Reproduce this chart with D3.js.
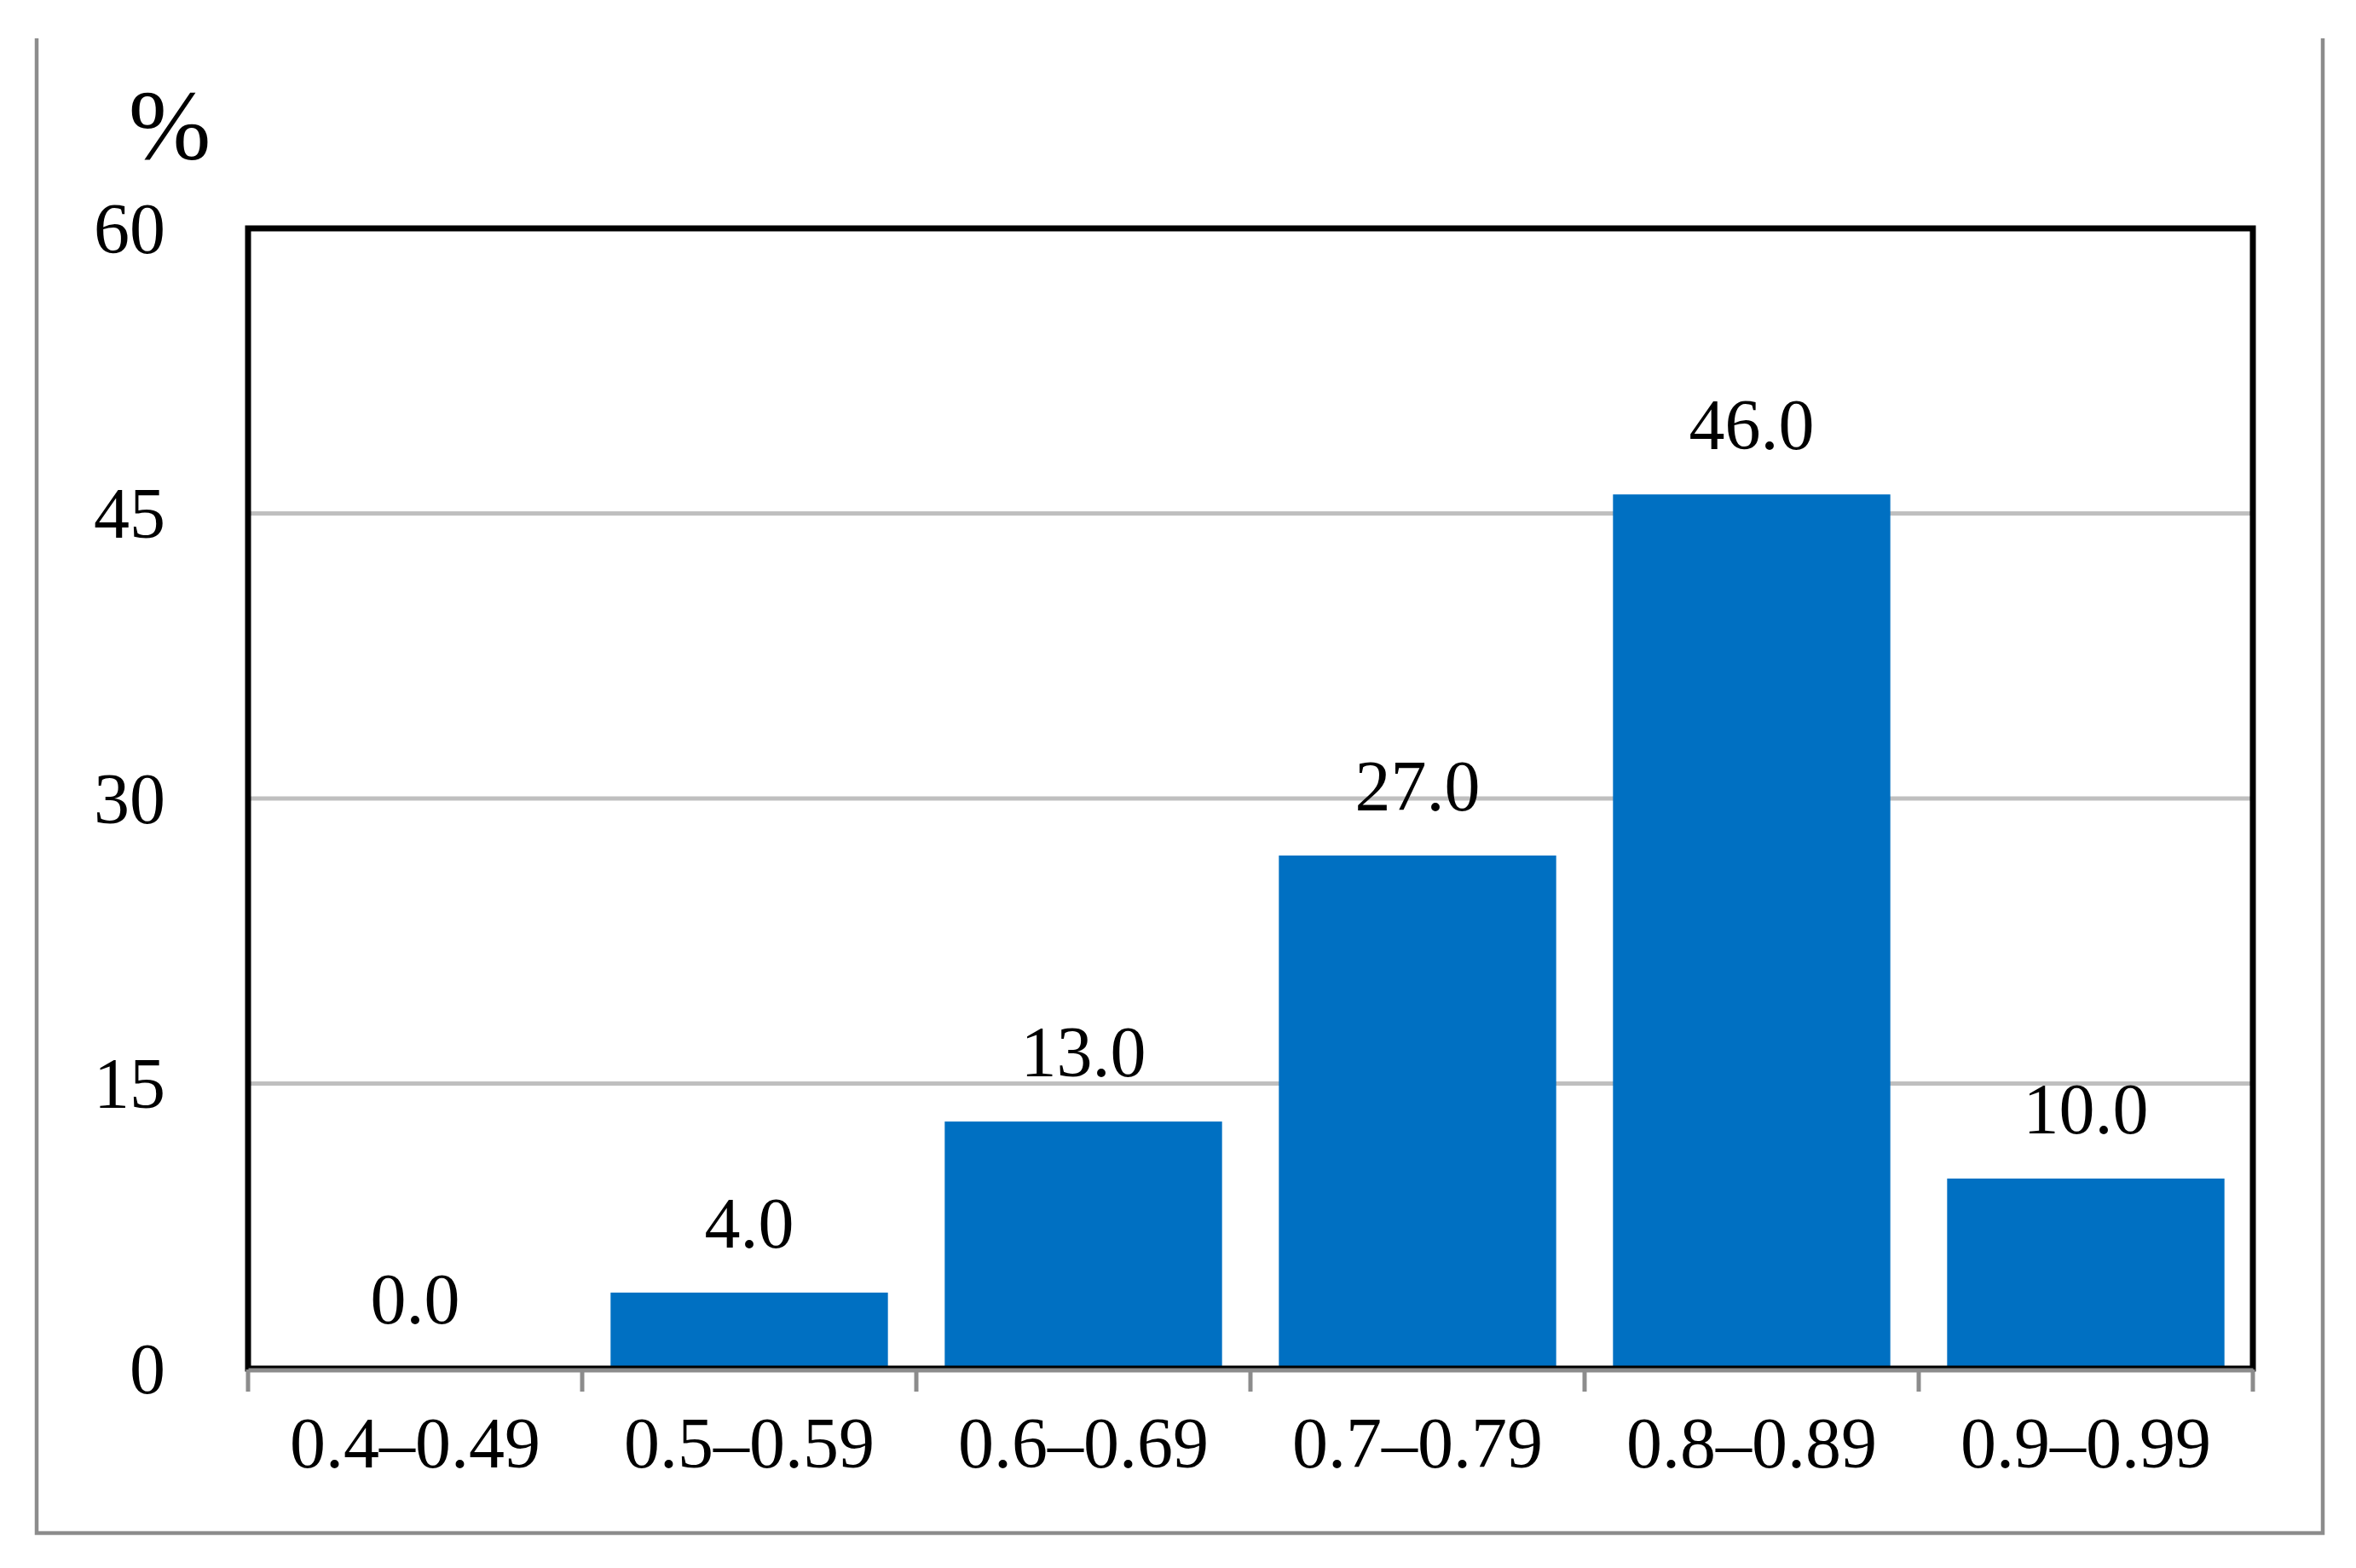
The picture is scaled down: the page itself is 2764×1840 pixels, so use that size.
<!DOCTYPE html>
<html>
<head>
<meta charset="utf-8">
<script src="https://cdn.jsdelivr.net/npm/d3@7"></script>
<style>
html,body{margin:0;padding:0;background:#fff;}
svg{display:block;}
text{font-family:"Liberation Serif","Times New Roman",serif;fill:#000;}
</style>
</head>
<body>
<svg id="chart" width="2764" height="1840"></svg>
<script>
const categories = ["0.4–0.49","0.5–0.59","0.6–0.69","0.7–0.79","0.8–0.89","0.9–0.99"];
const values = [0.0, 4.0, 13.0, 27.0, 46.0, 10.0];
const yTicks = [0, 15, 30, 45, 60];
const yUnit = "%";

const svg = d3.select("#chart");
const L = 291, R = 2643, T = 268, B = 1606;

const x = d3.scaleBand().domain(categories).range([L, R]).paddingInner(0.17).paddingOuter(0.085);
const xb = d3.scaleBand().domain(categories).range([L, R]);
const y = d3.scaleLinear().domain([0, 60]).range([B, T]);

// outer frame (open top)
svg.append("path")
  .attr("d", `M43,45 V1799 H2725 V45`)
  .attr("fill", "none").attr("stroke", "#8c8c8c").attr("stroke-width", 4.5);

// gridlines
svg.append("g").selectAll("line").data(yTicks.filter(d => d > 0 && d < 60)).join("line")
  .attr("x1", L).attr("x2", R)
  .attr("y1", d => y(d)).attr("y2", d => y(d))
  .attr("stroke", "#bfbfbf").attr("stroke-width", 5);

// bars
svg.append("g").selectAll("rect").data(values).join("rect")
  .attr("x", (d, i) => x(categories[i]))
  .attr("width", x.bandwidth())
  .attr("y", d => y(d))
  .attr("height", d => y(0) - y(d))
  .attr("fill", "#0070c2");

// plot frame
svg.append("rect")
  .attr("x", L).attr("y", T).attr("width", R - L).attr("height", B - T)
  .attr("fill", "none").attr("stroke", "#000").attr("stroke-width", 7);

// x axis line + ticks
const xAxis = d3.axisBottom(xb).tickSize(0).tickFormat("");
const gx = svg.append("g").attr("transform", `translate(0,${B + 1.5})`).call(xAxis);
gx.select(".domain").attr("stroke", "#8c8c8c").attr("stroke-width", 5);
const boundaries = categories.map(c => xb(c)).concat([R]);
svg.append("g").selectAll("line").data(boundaries).join("line")
  .attr("x1", d => d).attr("x2", d => d)
  .attr("y1", B + 1).attr("y2", 1633)
  .attr("stroke", "#8c8c8c").attr("stroke-width", 5);

// x labels
svg.append("g").selectAll("text").data(categories).join("text")
  .attr("x", d => xb(d) + xb.bandwidth() / 2)
  .attr("y", 1722)
  .attr("text-anchor", "middle")
  .attr("font-size", 84)
  .text(d => d);

// y labels
svg.append("g").selectAll("text").data(yTicks).join("text")
  .attr("x", 194)
  .attr("y", d => y(d))
  .attr("dy", "0.34em")
  .attr("text-anchor", "end")
  .attr("font-size", 84)
  .text(d => d);

// unit
svg.append("text")
  .attr("x", 199).attr("y", 186)
  .attr("text-anchor", "middle")
  .attr("font-size", 116)
  .text(yUnit);

// data labels
svg.append("g").selectAll("text").data(values).join("text")
  .attr("x", (d, i) => xb(categories[i]) + xb.bandwidth() / 2)
  .attr("y", d => y(d) - 53)
  .attr("text-anchor", "middle")
  .attr("font-size", 84)
  .text(d => d.toFixed(1));
</script>
</body>
</html>
